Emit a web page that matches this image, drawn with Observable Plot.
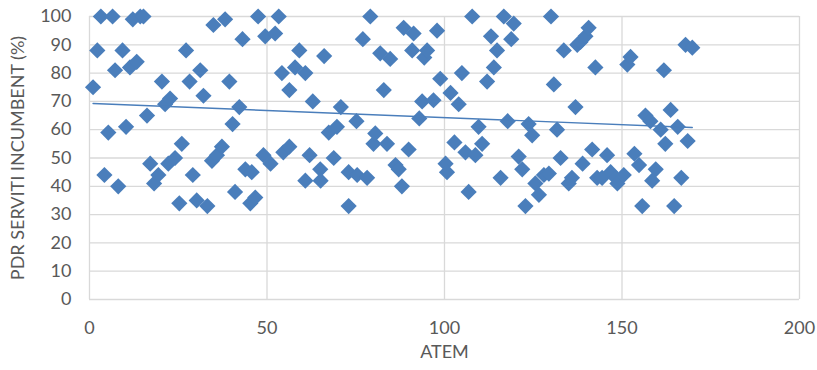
<!DOCTYPE html>
<html>
<head>
<meta charset="utf-8">
<script src="https://cdn.jsdelivr.net/npm/d3@7"></script>
<script src="https://cdn.jsdelivr.net/npm/@observablehq/plot@0.6"></script>
<style>
  html, body { margin: 0; padding: 0; background: #ffffff; }
  #chart svg { display: block; }
</style>
</head>
<body>
<div id="chart"></div>
<script>
const atem = [1,2.2,3.2,4.2,5.3,6.5,7.2,8.1,9.3,10.3,11.4,12.2,13.3,14.3,15.2,16.2,17.1,18.2,19.4,20.4,21.3,22.2,22.7,24.1,25.3,26,27.2,28.2,29.1,30.2,31.2,32.1,33.2,34.5,34.9,35.9,37.3,38.2,39.4,40.3,41,42.2,43.1,43.9,45.3,45.7,46.7,47.5,49,51,49.5,52.3,53.3,54.2,54.6,56.3,56.3,57.9,59.1,60.8,60.8,62,62.9,65,65.1,66.1,67.4,68.8,69.7,70.8,73,73,75.2,75.4,77,78.2,79.1,80,80.5,81.9,82.9,83.8,84.7,86.2,87.1,88,88.5,89.9,90.9,91.3,92.9,93.7,94.3,95.1,96.9,97.9,98.8,100.3,100.7,101.7,102.8,104,104.9,105.9,106.8,107.8,108.7,109.6,110.6,112,113.1,113.9,114.8,115.8,116.7,117.8,118.8,119.5,120.9,121.9,122.8,123.7,124.7,125.6,126.6,128,129.4,130,130.8,131.7,132.7,133.6,135,135.9,136.9,137.4,138.3,138.9,139.7,140.6,141.6,142.5,143,144.4,145.8,146.8,148.2,148.7,150.5,151.5,152.4,153.5,154.8,155.7,156.6,158,158.5,159.5,160.9,161.8,162.2,163.7,164.7,165.7,166.7,167.9,168.5,169.8];
const pdr = [75,88,100,44,59,100,81,40,88,61,82,99,84,100,100,65,48,41,44,77,69,48,71,50,34,55,88,77,44,35,81,72,33,49,97,51,54,99,77,62,38,68,92,46,34,45,36,100,51,48,93,94,100,80,52,54,74,82,88,80,42,51,70,46,42,86,59,50,61,68,45,33,63,44,92,43,100,55,58.7,87,74,55,85,47.5,46,40,96,53,88,94,64,70,85.5,88,70.4,95,78,48,45,73,55.5,69,80,52,38,100,51,61,55,77,93,82,88,43,100,63,92,97.5,50.5,46,33,62,58,41,37,44,44.5,100,76,60,50,88,41,43,68,90,91,48,93,96,53,82,43,43,51,45,43,41,44,83,85.7,51.5,47.5,33,65,63,42,46,60,81,55,67,33,61,43,90,56,89];
const xTicks = [0, 50, 100, 150, 200];
const yTicks = [0, 10, 20, 30, 40, 50, 60, 70, 80, 90, 100];
const xTitle = "ATEM";
const yTitle = "PDR SERVITI INCUMBENT (%)";

const data = atem.map((a, i) => ({atem: a, pdr: pdr[i]}));
const blue = "#4a7ebb";
const grid = "#d9d9d9";

const chart = Plot.plot({
  width: 817,
  height: 370,
  marginLeft: 89,
  marginRight: 18,
  marginTop: 16,
  marginBottom: 71,
  style: {fontFamily: "Lato, 'Open Sans', sans-serif", fontSize: "18px", color: "#595959", background: "#ffffff"},
  x: {domain: [0, 200], label: null},
  y: {domain: [0, 100], label: null},
  marks: [
    Plot.gridY(yTicks, {stroke: grid, strokeOpacity: 1, strokeWidth: 1.3}),
    Plot.gridX(xTicks, {stroke: grid, strokeOpacity: 1, strokeWidth: 1.3}),
    Plot.axisY(yTicks, {tickSize: 0, tickPadding: 18, fill: "#595959", label: yTitle, labelAnchor: "center", labelArrow: "none", labelOffset: 78}),
    Plot.axisX(xTicks, {tickSize: 0, tickPadding: 22, fill: "#595959", label: xTitle, labelAnchor: "center", labelArrow: "none", labelOffset: 58}),
    Plot.dot(data, {x: "atem", y: "pdr", symbol: "diamond2", r: 7.3, fill: blue, stroke: "none"}),
    Plot.linearRegressionY(data, {x: "atem", y: "pdr", stroke: blue, strokeWidth: 1.4, ci: 0})
  ]
});
document.getElementById("chart").appendChild(chart);
</script>
</body>
</html>
